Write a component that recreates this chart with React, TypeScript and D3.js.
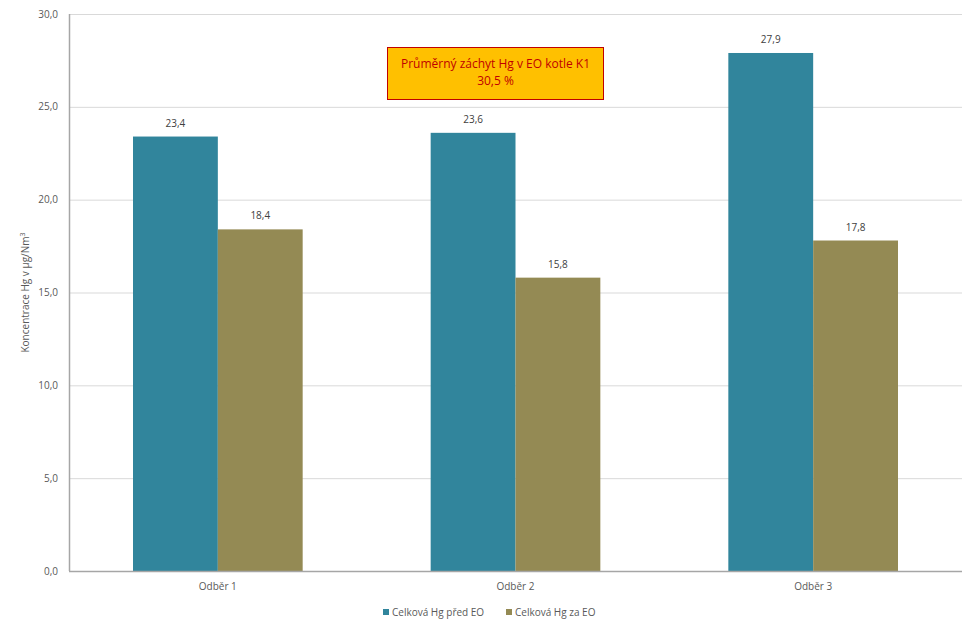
import * as d3 from 'd3';
import { useEffect, useRef } from 'react';

const categories = ['Odběr 1', 'Odběr 2', 'Odběr 3'];
const seriesNames = ['Celková Hg před EO', 'Celková Hg za EO'];
const predEO = [23.4, 23.6, 27.9];
const zaEO = [18.4, 15.8, 17.8];
const yTicks = [0, 5, 10, 15, 20, 25, 30];
const boxLines = ['Průměrný záchyt Hg v EO kotle K1', '30,5 %'];

const colors = ['#31859C', '#948A54'];
const font = '"Open Sans", sans-serif';

const width = 977;
const height = 634;
const margin = { top: 14, right: 15, bottom: 63, left: 69 };

const App = () => {
  const ref = useRef<SVGSVGElement | null>(null);

  useEffect(() => {
    if (!ref.current) return;
    const svg = d3.select(ref.current);
    svg.selectAll('*').remove();

    const innerW = width - margin.left - margin.right;
    const innerH = height - margin.top - margin.bottom;

    const x = d3
      .scaleBand<string>()
      .domain(categories)
      .range([0, innerW])
      .paddingInner(0.43)
      .paddingOuter(0.215);
    const xs = d3.scaleBand<number>().domain([0, 1]).range([0, x.bandwidth()]);
    const y = d3.scaleLinear().domain([0, 30]).range([innerH, 0]);

    const g = svg
      .append('g')
      .attr('transform', `translate(${margin.left},${margin.top})`);

    // gridlines
    g.selectAll('line.grid')
      .data(yTicks.filter((t) => t > 0))
      .enter()
      .append('line')
      .attr('x1', 0)
      .attr('x2', innerW)
      .attr('y1', (d) => y(d) + 0.5)
      .attr('y2', (d) => y(d) + 0.5)
      .attr('stroke', '#D9D9D9')
      .attr('stroke-width', 1);

    // y tick labels
    g.selectAll('text.ytick')
      .data(yTicks)
      .enter()
      .append('text')
      .attr('x', -11)
      .attr('y', (d) => y(d))
      .attr('dy', '0.35em')
      .attr('text-anchor', 'end')
      .attr('font-family', font)
      .attr('font-size', 10)
      .attr('fill', '#595959')
      .text((d) => d3.format('.1f')(d).replace('.', ','));

    const series = [predEO, zaEO];
    series.forEach((vals, si) => {
      const grp = g.append('g');
      grp
        .selectAll('rect')
        .data(vals)
        .enter()
        .append('rect')
        .attr('x', (_d, i) => (x(categories[i]) ?? 0) + (xs(si) ?? 0))
        .attr('y', (d) => y(d))
        .attr('width', xs.bandwidth())
        .attr('height', (d) => innerH - y(d))
        .attr('fill', colors[si]);
      grp
        .selectAll('text')
        .data(vals)
        .enter()
        .append('text')
        .attr('x', (_d, i) => (x(categories[i]) ?? 0) + (xs(si) ?? 0) + xs.bandwidth() / 2)
        .attr('y', (d) => y(d) - 10)
        .attr('text-anchor', 'middle')
        .attr('font-family', font)
        .attr('font-size', 10)
        .attr('fill', '#404040')
        .text((d) => d3.format('.1f')(d).replace('.', ','));
    });

    // axes lines
    g.append('line')
      .attr('x1', 0.5)
      .attr('x2', 0.5)
      .attr('y1', 0)
      .attr('y2', innerH)
      .attr('stroke', '#A6A6A6')
      .attr('stroke-width', 1.5);
    g.append('line')
      .attr('x1', 0)
      .attr('x2', innerW)
      .attr('y1', innerH + 0.5)
      .attr('y2', innerH + 0.5)
      .attr('stroke', '#A6A6A6')
      .attr('stroke-width', 1.5);

    // x labels
    g.selectAll('text.xlab')
      .data(categories)
      .enter()
      .append('text')
      .attr('x', (d) => (x(d) ?? 0) + x.bandwidth() / 2)
      .attr('y', innerH + 19)
      .attr('text-anchor', 'middle')
      .attr('font-family', font)
      .attr('font-size', 10)
      .attr('fill', '#595959')
      .text((d) => d);

    // y title
    svg
      .append('text')
      .attr('transform', `translate(29,${margin.top + innerH / 2}) rotate(-90)`)
      .attr('text-anchor', 'middle')
      .attr('font-family', font)
      .attr('font-size', 10)
      .attr('fill', '#595959')
      .text('Koncentrace Hg v µg/Nm')
      .append('tspan')
      .attr('dy', -4)
      .attr('font-size', 7)
      .text('3');

    // annotation box
    const box = svg.append('g').attr('transform', 'translate(387.5,47.5)');
    box
      .append('rect')
      .attr('width', 216)
      .attr('height', 52)
      .attr('fill', '#FFC000')
      .attr('stroke', '#C00000')
      .attr('stroke-width', 1);
    boxLines.forEach((t, i) => {
      box
        .append('text')
        .attr('x', 108)
        .attr('y', 20 + i * 17)
        .attr('text-anchor', 'middle')
        .attr('font-family', font)
        .attr('font-size', 12)
        .attr('fill', '#C00000')
        .text(t);
    });

    // legend
    const legendX = [383, 506];
    seriesNames.forEach((n, i) => {
      const lg = svg.append('g').attr('transform', `translate(${legendX[i]},612)`);
      lg.append('rect')
        .attr('x', 0)
        .attr('y', -3)
        .attr('width', 6)
        .attr('height', 6)
        .attr('fill', colors[i]);
      lg.append('text')
        .attr('x', 9)
        .attr('y', 0)
        .attr('dy', '0.35em')
        .attr('font-family', font)
        .attr('font-size', 10)
        .attr('fill', '#595959')
        .text(n);
    });
  }, []);

  return <svg ref={ref} width={width} height={height} style={{ position: 'absolute', left: 0, top: 0 }} />;
};

export default App;
